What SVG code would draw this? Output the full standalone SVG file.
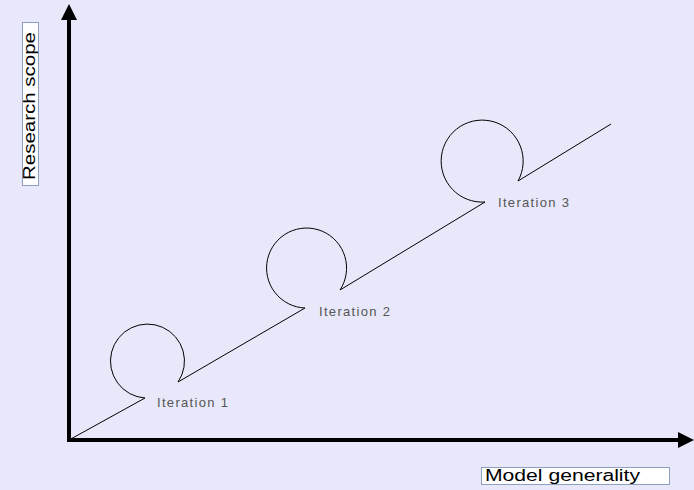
<svg xmlns="http://www.w3.org/2000/svg" width="694" height="490" viewBox="0 0 694 490">
<style>
.axis{stroke:#000;stroke-width:4;fill:none}
.curve{stroke:#000;stroke-width:1;fill:none}
.lbl{font-family:"Liberation Sans",Arial,sans-serif;font-size:16px;fill:#000}
.it{font-family:"Liberation Sans",Arial,sans-serif;font-size:13px;fill:#555}
.box{fill:#fff;stroke:#8ca0bf;stroke-width:1}
</style>
<defs>
<marker id="ah" markerWidth="4" markerHeight="4" refX="0" refY="2" orient="auto" markerUnits="strokeWidth">
<path d="M0,0 L4,2 L0,4 Z" fill="#000"/>
</marker>
</defs>
<rect width="694" height="490" fill="#e8e8fa"/>
<g id="connectors">
<line class="axis" x1="69" y1="442" x2="69" y2="20" marker-end="url(#ah)"/>
<line class="axis" x1="67" y1="440" x2="678" y2="440" marker-end="url(#ah)"/>
<path class="curve" d="M69,440 L145,398 A37,37 0 1 1 178,382 L305,308 A40,40 0 1 1 340,290 L485,202 A41,41 0 1 1 518,181 L611,124"/>
</g>
<g id="y-label">
<rect class="box" x="22.5" y="22.5" width="16" height="163"/>
<text class="lbl" transform="translate(35,180) rotate(-90)" textLength="148" lengthAdjust="spacingAndGlyphs">Research scope</text>
</g>
<g id="x-label">
<rect class="box" x="481.5" y="467.5" width="188" height="17"/>
<text class="lbl" x="485" y="481" textLength="155" lengthAdjust="spacingAndGlyphs">Model generality</text>
</g>
<g id="iteration1"><text class="it" x="157" y="407" textLength="71">Iteration 1</text></g>
<g id="iteration2"><text class="it" x="319" y="316" textLength="71">Iteration 2</text></g>
<g id="iteration3"><text class="it" x="498" y="207" textLength="71">Iteration 3</text></g>
</svg>
